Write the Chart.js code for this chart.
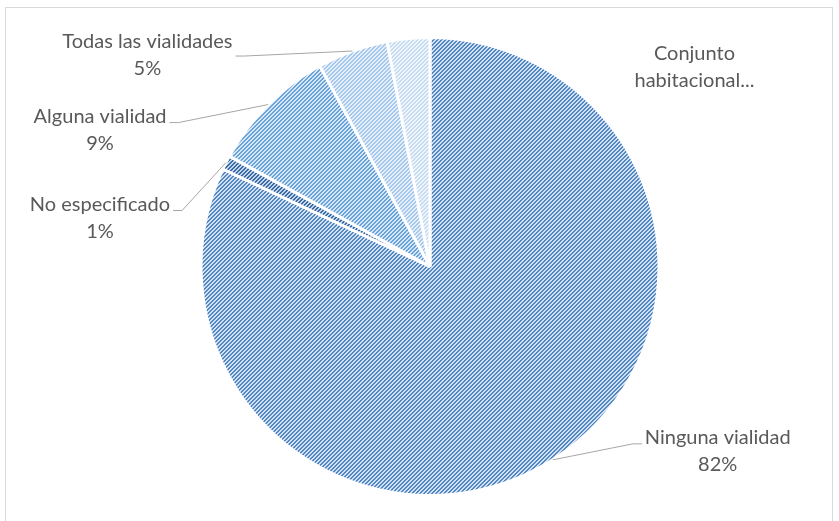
<!DOCTYPE html>
<html>
<head>
<meta charset="utf-8">
<script src="https://cdn.jsdelivr.net/npm/chart.js@4.4.1/dist/chart.umd.min.js"></script>
<style>
  html, body { margin: 0; padding: 0; background: #ffffff; overflow: hidden; }
  #wrap { position: relative; width: 839px; height: 521px; }
  #frame { position: absolute; left: 5px; top: 7px; width: 828px; height: 530px; border: 1px solid #d9d9d9; box-sizing: border-box; }
  canvas { position: absolute; left: 0; top: 0; }
</style>
</head>
<body>
<div id="wrap">
  <div id="frame"></div>
  <canvas id="pieChart" width="839" height="521"></canvas>
</div>
<script>
// slices, clockwise from 12 o'clock
const categories = ["Ninguna vialidad", "No especificado", "Alguna vialidad", "Todas las vialidades", "Conjunto habitacional..."];
const shares = [82, 1, 9, 5, 3];
const stripeColors = ["#5287c2", "#3a6ba2", "#68a2db", "#a4c7ec", "#c6dcf3"];
const baseColors = ["#d3e2f3", "#c3d6ec", "#d9e8f7", "#e6effa", "#f0f5fc"];

// label placement relative to the slice's outer midpoint
const labelOffsets = [
  { dx: 165, dy: -22, leader: true, ly: 6 },
  { dx: -126, dy: 42, leader: true, ly: 6 },
  { dx: -168, dy: 12, leader: true, ly: 6 },
  { dx: -205, dy: -9, leader: true, ly: 14 },
  { dx: 286, dy: 15, leader: false, ly: 0 },
];

function makePattern(fg, bg) {
  const tile = document.createElement("canvas");
  tile.width = 4;
  tile.height = 4;
  const c = tile.getContext("2d");
  c.fillStyle = bg;
  c.fillRect(0, 0, 4, 4);
  c.fillStyle = fg;
  for (let x = 0; x < 4; x++) {
    for (let y = 0; y < 4; y++) {
      if ((x + y) % 4 < 2) c.fillRect(x, y, 1, 1);
    }
  }
  return c.createPattern(tile, "repeat");
}

const ctx = document.getElementById("pieChart").getContext("2d");
const fills = shares.map((_, i) => makePattern(stripeColors[i], baseColors[i]));

const labelFont = "20px Lato";
const labelColor = "#595959";

const labelPlugin = {
  id: "excelLabels",
  afterDatasetsDraw(chart) {
    const c = chart.ctx;
    const meta = chart.getDatasetMeta(0);
    const total = shares.reduce((a, b) => a + b, 0);
    c.save();
    c.font = labelFont;
    c.fillStyle = labelColor;
    c.textAlign = "center";
    c.textBaseline = "middle";
    meta.data.forEach((arc, i) => {
      const p = arc.getProps(["x", "y", "startAngle", "endAngle", "outerRadius"], true);
      const mid = (p.startAngle + p.endAngle) / 2;
      const ax = p.x + Math.cos(mid) * p.outerRadius;
      const ay = p.y + Math.sin(mid) * p.outerRadius;
      const off = labelOffsets[i];
      const tx = ax + off.dx;
      const ty = ay + off.dy;
      const pct = Math.round(shares[i] / total * 100) + "%";
      const lines = i === 4 ? ["Conjunto", "habitacional..."] : [categories[i], pct];
      const w = Math.max(...lines.map(l => c.measureText(l).width));
      lines.forEach((l, k) => c.fillText(l, tx, ty + k * 27));
      if (off.leader) {
        const left = off.dx < 0;
        const edge = left ? tx + w / 2 + 3 : tx - w / 2 - 3;
        const elbow = left ? edge + 9 : edge - 9;
        c.strokeStyle = "#a6a6a6";
        c.lineWidth = 1;
        c.beginPath();
        c.moveTo(ax, ay);
        c.lineTo(elbow, ty + off.ly);
        c.lineTo(edge, ty + off.ly);
        c.stroke();
      }
    });
    c.restore();
  }
};

const pieData = {
  labels: categories,
  datasets: [
    {
      data: shares,
      backgroundColor: fills,
      borderColor: "#ffffff",
      borderWidth: 3,
    },
  ],
};

const pieConfig = {
  type: "pie",
  data: pieData,
  options: {
    responsive: false,
    animation: false,
    layout: {
      padding: { top: 36, bottom: 24, left: 199, right: 178 },
    },
    plugins: {
      legend: { display: false },
      tooltip: { enabled: false },
    },
  },
  plugins: [labelPlugin],
};

new Chart(ctx, pieConfig);
</script>
</body>
</html>
